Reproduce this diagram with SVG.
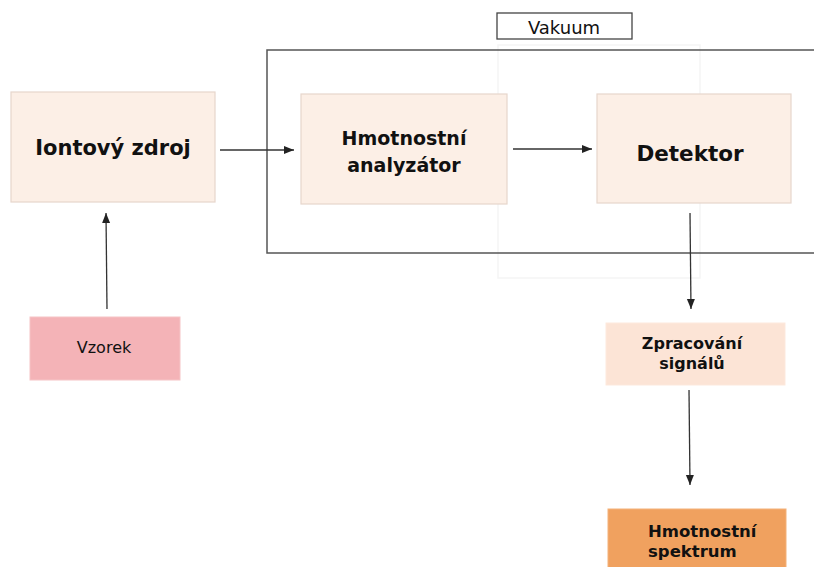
<svg xmlns="http://www.w3.org/2000/svg" width="814" height="567" viewBox="0 0 814 567">
<style>
  .box{fill:#fcefe6;stroke:#e6d6cc;stroke-width:1.2}
  .t{font-family:"DejaVu Sans",Verdana,sans-serif;fill:#111;text-anchor:middle}
  .b{font-weight:bold}
  .edge{stroke:#333;stroke-width:1.3;fill:none;marker-end:url(#ah)}
</style>
<defs>
  <marker id="ah" viewBox="0 0 10 10" refX="10" refY="5" markerWidth="10" markerHeight="10" markerUnits="userSpaceOnUse" orient="auto">
    <path d="M0,1 L10,5 L0,9 Z" fill="#222"/>
  </marker>
</defs>
<rect width="814" height="567" fill="#fff"/>
<g id="ghost">
  <rect x="498" y="45" width="202" height="233" fill="none" stroke="#f5f5f5" stroke-width="1.5"/>
</g>
<g id="vakuum">
  <path d="M814,50 L267,50 L267,253 L814,253" fill="none" stroke="#555" stroke-width="1.5"/>
  <rect x="497" y="13" width="135" height="26" fill="#fff" stroke="#444" stroke-width="1.3"/>
  <text class="t" x="564" y="34" font-size="18">Vakuum</text>
</g>
<g id="iontovy">
  <rect class="box" x="11" y="92" width="204" height="110"/>
  <text class="t b" x="113" y="155" font-size="21">Iontový zdroj</text>
</g>
<g id="analyzator">
  <rect class="box" x="301" y="94" width="206" height="110"/>
  <text class="t b" x="404" y="145" font-size="19">Hmotnostní</text>
  <text class="t b" x="404" y="172" font-size="19">analyzátor</text>
</g>
<g id="detektor">
  <rect class="box" x="597" y="94" width="194" height="109"/>
  <text class="t b" x="690" y="161" font-size="21.5">Detektor</text>
</g>
<g id="vzorek">
  <rect x="30" y="317" width="150" height="63" fill="#f4b3b7" stroke="#f6c4c6" stroke-width="1"/>
  <text class="t" x="104" y="353" font-size="16" fill="#222">Vzorek</text>
</g>
<g id="zpracovani">
  <rect x="606" y="323" width="179" height="62" fill="#fce4d6" stroke="#fde9dd" stroke-width="1"/>
  <text class="t b" x="692" y="349" font-size="16">Zpracování</text>
  <text class="t b" x="692" y="369" font-size="16">signálů</text>
</g>
<g id="spektrum">
  <rect x="608" y="509" width="178" height="70" fill="#f0a15f" stroke="#f3b17a" stroke-width="1"/>
  <text class="t b" x="648" y="537" font-size="16.5" style="text-anchor:start">Hmotnostní</text>
  <text class="t b" x="648" y="557" font-size="16.5" style="text-anchor:start">spektrum</text>
</g>
<g id="connectors">
  <line class="edge" x1="220" y1="150" x2="294" y2="150"/>
  <line class="edge" x1="513" y1="149" x2="592" y2="149"/>
  <line class="edge" x1="107" y1="309" x2="106" y2="213"/>
  <line class="edge" x1="690" y1="213" x2="691" y2="309"/>
  <line class="edge" x1="689" y1="390" x2="690" y2="485"/>
</g>
</svg>
